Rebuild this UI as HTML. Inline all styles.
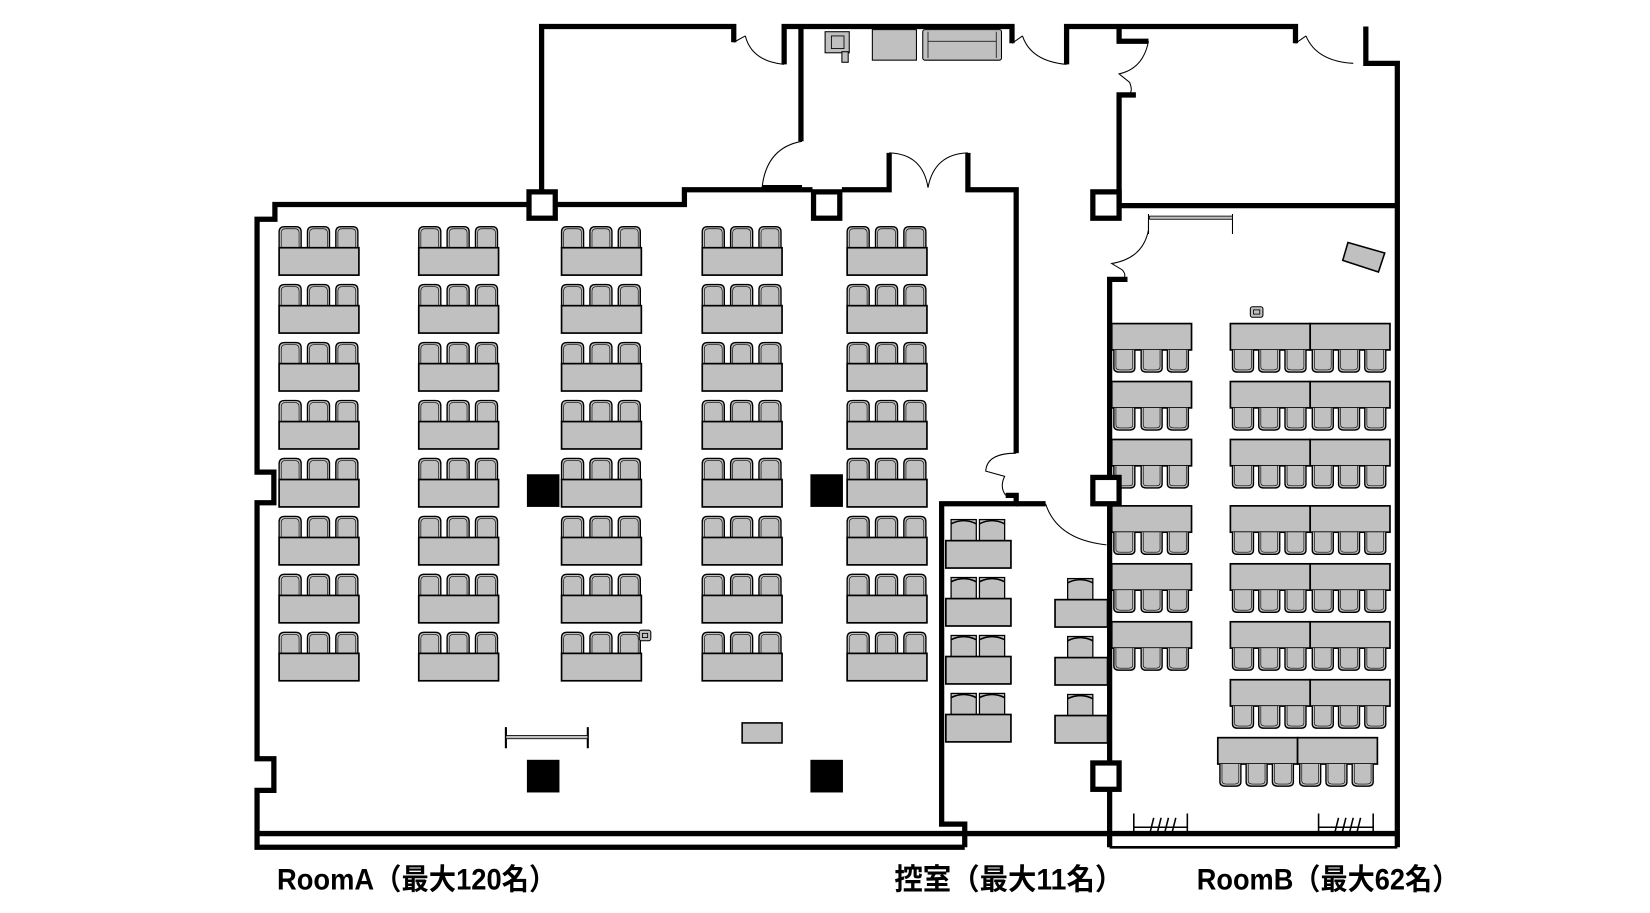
<!DOCTYPE html>
<html><head><meta charset="utf-8"><style>
html,body{margin:0;padding:0;background:#fff;}
svg{display:block;}
text{font-family:"Liberation Sans","Noto Sans CJK JP",sans-serif;font-weight:bold;}
</style></head><body>
<svg width="1650" height="913" viewBox="0 0 1560 863" xmlns="http://www.w3.org/2000/svg">
<defs>
<g id="ca"><path d="M0 21 V5 Q0 0 5 0 H16 Q21 0 21 5 V21" fill="#c0c0c0" stroke="#000" stroke-width="1.3"/><path d="M2 21 V6 Q2 2 6 2 H15 Q19 2 19 6 V21" fill="none" stroke="#000" stroke-width="0.6"/></g>
<g id="da"><use href="#ca" x="0" y="0"/><use href="#ca" x="27" y="0"/><use href="#ca" x="54" y="0"/><rect x="0" y="20" width="76" height="26" fill="#c0c0c0" stroke="#000" stroke-width="1.6"/></g>
<g id="cb"><path d="M0 0 V17 Q0 21 5 21 H15 Q20 21 20 17 V0" fill="#c0c0c0" stroke="#000" stroke-width="1.3"/><path d="M2 0 V16 Q2 19 6 19 H14 Q18 19 18 16 V0" fill="none" stroke="#000" stroke-width="0.6"/></g>
<g id="dbl"><rect x="0" y="0" width="76" height="25" fill="#c0c0c0" stroke="#000" stroke-width="1.6"/><use href="#cb" x="2" y="25"/><use href="#cb" x="28" y="25"/><use href="#cb" x="53" y="25"/></g>
<g id="dbr"><rect x="0" y="0" width="76" height="25" fill="#c0c0c0" stroke="#000" stroke-width="1.6"/><rect x="76" y="0" width="76" height="25" fill="#c0c0c0" stroke="#000" stroke-width="1.6"/><use href="#cb" x="2" y="25"/><use href="#cb" x="27" y="25"/><use href="#cb" x="52" y="25"/><use href="#cb" x="78" y="25"/><use href="#cb" x="103" y="25"/><use href="#cb" x="128" y="25"/></g>
<g id="cc"><rect x="0" y="2" width="24" height="22" fill="#c0c0c0" stroke="#000" stroke-width="1.2"/><path d="M0 6 Q12 0 24 6" fill="none" stroke="#000" stroke-width="1.5"/></g>
<g id="dc"><use href="#cc" x="5" y="0"/><use href="#cc" x="32" y="0"/><rect x="0" y="22" width="62" height="26" fill="#c0c0c0" stroke="#000" stroke-width="1.6"/></g>
<g id="dd"><use href="#cc" x="12" y="0"/><rect x="0" y="22" width="50" height="26" fill="#c0c0c0" stroke="#000" stroke-width="1.6"/></g>
</defs>
<g transform="matrix(0.9927 0 0 0.9962 3.8 0)">

<g>
<use href="#da" x="262" y="215"/><use href="#da" x="262" y="270"/><use href="#da" x="262" y="325"/><use href="#da" x="262" y="380"/><use href="#da" x="262" y="435"/><use href="#da" x="262" y="490"/><use href="#da" x="262" y="545"/><use href="#da" x="262" y="600"/>
<use href="#da" x="395" y="215"/><use href="#da" x="395" y="270"/><use href="#da" x="395" y="325"/><use href="#da" x="395" y="380"/><use href="#da" x="395" y="435"/><use href="#da" x="395" y="490"/><use href="#da" x="395" y="545"/><use href="#da" x="395" y="600"/>
<use href="#da" x="531" y="215"/><use href="#da" x="531" y="270"/><use href="#da" x="531" y="325"/><use href="#da" x="531" y="380"/><use href="#da" x="531" y="435"/><use href="#da" x="531" y="490"/><use href="#da" x="531" y="545"/><use href="#da" x="531" y="600"/>
<use href="#da" x="665" y="215"/><use href="#da" x="665" y="270"/><use href="#da" x="665" y="325"/><use href="#da" x="665" y="380"/><use href="#da" x="665" y="435"/><use href="#da" x="665" y="490"/><use href="#da" x="665" y="545"/><use href="#da" x="665" y="600"/>
<use href="#da" x="803" y="215"/><use href="#da" x="803" y="270"/><use href="#da" x="803" y="325"/><use href="#da" x="803" y="380"/><use href="#da" x="803" y="435"/><use href="#da" x="803" y="490"/><use href="#da" x="803" y="545"/><use href="#da" x="803" y="600"/>
</g>

<use href="#dbl" x="1055" y="307"/><use href="#dbl" x="1055" y="362"/><use href="#dbl" x="1055" y="417"/><use href="#dbl" x="1055" y="480"/><use href="#dbl" x="1055" y="535"/><use href="#dbl" x="1055" y="590"/>
<use href="#dbr" x="1168" y="307"/><use href="#dbr" x="1168" y="362"/><use href="#dbr" x="1168" y="417"/><use href="#dbr" x="1168" y="480"/><use href="#dbr" x="1168" y="535"/><use href="#dbr" x="1168" y="590"/><use href="#dbr" x="1168" y="645"/><use href="#dbr" x="1156" y="700"/>

<use href="#dc" x="897" y="491"/><use href="#dc" x="897" y="546"/><use href="#dc" x="897" y="601"/><use href="#dc" x="897" y="656"/>
<use href="#dd" x="1001" y="547"/><use href="#dd" x="1001" y="602"/><use href="#dd" x="1001" y="657"/>

<rect x="498" y="450" width="31" height="31" fill="#000"/><rect x="768" y="450" width="31" height="31" fill="#000"/>
<rect x="498" y="721" width="31" height="31" fill="#000"/><rect x="768" y="721" width="31" height="31" fill="#000"/>

<g fill="none" stroke="#000" stroke-width="5" stroke-linejoin="miter">
<path d="M498 194 L258 194 L258 208 L241 208 L241 448 L257 448 L257 477 L241 477 L241 720 L257 720 L257 750 L241 750 L241 804 L915 804"/>
<path d="M527 194 L648 194 L648 180 L770 180"/>
<path d="M798 180 L843 180 L843 145"/>
<path d="M918 145 L918 180 L964 180 L964 430"/>
<path d="M512 180 L512 25 L695 25 L695 40"/>
<path d="M743 61 L743 25 L960 25 L960 41"/>
<path d="M759 25 L759 134"/>
<path d="M722 178 L760 178"/>
<path d="M1012 61 L1012 25 L1230 25 L1230 41"/>
<path d="M1297 25 L1297 60 L1327 60 L1327 804"/>
<path d="M1062 25 L1062 39 L1090 39"/>
<path d="M1078 90 L1062 90 L1062 195 L1327 195"/>
<path d="M954 470 L964 470 L964 478 L893 478 L893 782 L915 782 L915 804"/>
<path d="M964 478 L992 478"/>
<path d="M1070 265 L1053 265 L1053 804"/>
<path d="M241 791 L1327 791"/>
<path d="M1053 804 L1327 804" stroke-width="2.5"/>
</g>
<g fill="#fff" stroke="#000" stroke-width="5">
<rect x="500" y="182" width="25" height="25"/><rect x="771" y="182" width="25" height="25"/>
<rect x="1037" y="182" width="25" height="25"/><rect x="1037" y="453" width="25" height="25"/><rect x="1037" y="724" width="25" height="25"/>
</g>

<g fill="none" stroke="#000" stroke-width="1">
<path d="M695 40 L706 34 M706 34 Q712 58 743 61"/>
<path d="M760 134 Q726 140 722 178"/>
<path d="M843 145 Q875 146 880 178 M918 145 Q886 146 880 178"/>
<path d="M960 41 L970 34 M970 34 Q978 58 1012 61"/>
<path d="M1090 39 Q1085 65 1062 70 L1072 78 Q1076 88 1070 90"/>
<path d="M1230 41 L1240 34 M1240 34 Q1250 58 1285 60"/>
<path d="M1090 210 L1090 222 M1090 218 Q1085 245 1055 250 L1065 256 Q1070 262 1065 265"/>
<path d="M964 430 Q936 430 935 447 L953 452 Q948 462 954 470"/>
<path d="M992 478 Q1003 512 1050 517"/>
<path d="M1090 203 L1090 222 M1170 203 L1170 222"/>
</g>
<rect x="1091" y="205" width="79" height="3" fill="#c0c0c0" stroke="#000" stroke-width="0.8"/>

<path d="M478 690 L478 710 M556 690 L556 710" stroke="#000" stroke-width="2"/>
<rect x="478" y="698" width="78" height="3" fill="#c0c0c0" stroke="#000" stroke-width="0.8"/>
<rect x="703" y="686" width="38" height="19" fill="#c0c0c0" stroke="#000" stroke-width="1.5"/>
<rect x="605" y="598" width="11" height="10" rx="2" fill="#c0c0c0" stroke="#000" stroke-width="1"/><rect x="608" y="601" width="5" height="4" fill="none" stroke="#000" stroke-width="0.8"/>
<rect x="1187" y="291" width="12" height="10" rx="2" fill="#c0c0c0" stroke="#000" stroke-width="1"/><rect x="1190" y="294" width="6" height="4" fill="none" stroke="#000" stroke-width="0.8"/>
<polygon points="1280,230 1315,240 1309,258 1275,247" fill="#c0c0c0" stroke="#000" stroke-width="1.5"/>

<rect x="782" y="30" width="23" height="20" fill="#c0c0c0" stroke="#000" stroke-width="1"/><rect x="788" y="34" width="12" height="12" fill="none" stroke="#000" stroke-width="0.8"/><rect x="798" y="49" width="6" height="10" fill="#c0c0c0" stroke="#000" stroke-width="1"/>
<rect x="827" y="28" width="42" height="29" fill="#c0c0c0" stroke="#000" stroke-width="1"/>
<rect x="875" y="28" width="75" height="29" rx="2" fill="#c0c0c0" stroke="#000" stroke-width="1"/><path d="M880 30 V55 M945 30 V55 M880 39 H945" stroke="#000" stroke-width="0.7" fill="none"/>

<g fill="none" stroke="#000" stroke-width="1.5">
<path d="M1076 772 V792 M1076 785 H1127 M1127 772 V792 M1091 792 L1095 776 M1098 792 L1102 776 M1105 792 L1109 776 M1112 792 L1116 776"/>
<path d="M1252 772 V792 M1252 785 H1304 M1304 772 V792 M1267 792 L1271 776 M1274 792 L1278 776 M1281 792 L1285 776 M1288 792 L1292 776"/>
</g>

<text x="260" y="844" font-size="28" textLength="266" lengthAdjust="spacingAndGlyphs">RoomA（最大120名）</text>
<text x="848" y="844" font-size="28" textLength="218" lengthAdjust="spacingAndGlyphs">控室（最大11名）</text>
<text x="1136" y="844" font-size="28" textLength="250" lengthAdjust="spacingAndGlyphs">RoomB（最大62名）</text>
</g>
</svg>
</body></html>
